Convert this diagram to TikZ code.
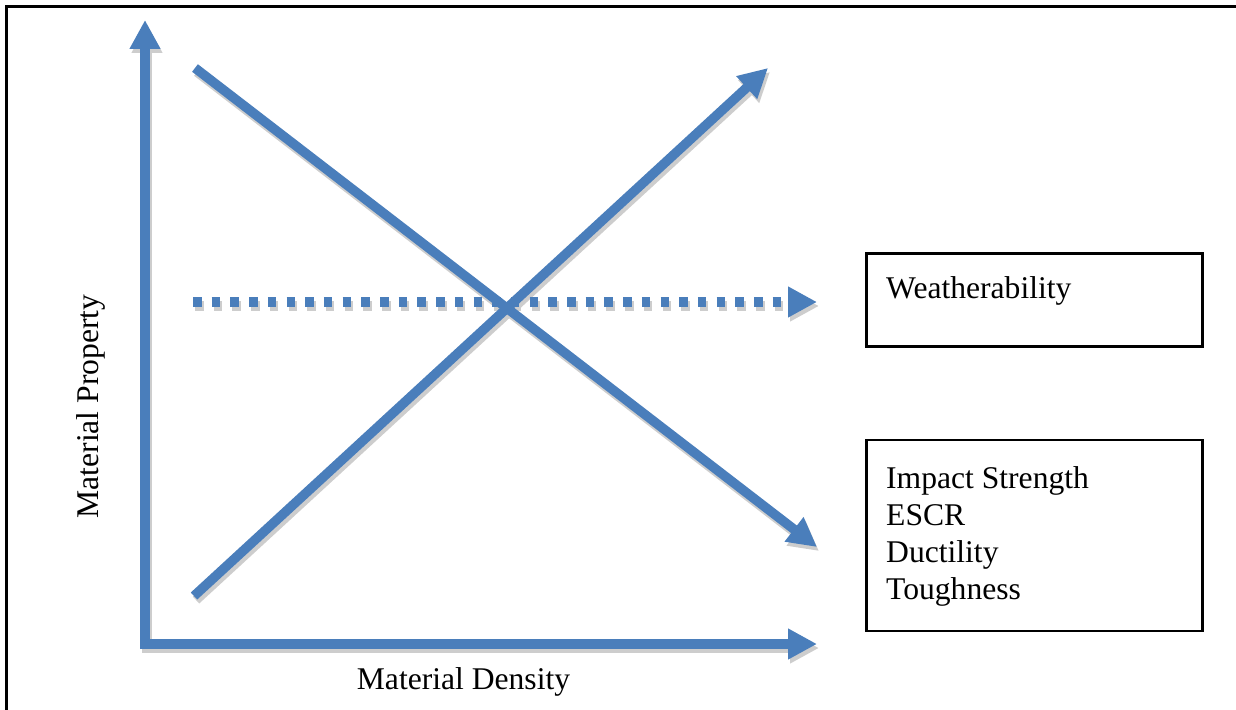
\documentclass[tikz,border=0pt]{standalone}
\usepackage{fontspec}
\setmainfont{Liberation Serif}
\usetikzlibrary{arrows.meta}
\definecolor{axisblue}{RGB}{74,126,187}
\definecolor{shadowgray}{RGB}{205,205,205}
\begin{document}
\begin{tikzpicture}[x=1pt,y=-1pt,
  tipstyle/.style={-{Triangle[length=29pt,width=29pt]}},
  thick arrow/.style={line width=9.5pt,tipstyle},
  axisline/.style={line width=9.5pt,{Triangle[length=29pt,width=29pt]}-{Triangle[length=29pt,width=29pt]},line join=miter},
  dotline/.style={line width=9.5pt,tipstyle,dash pattern=on 8.5pt off 10.2pt},
  lbl/.style={font=\fontsize{31.6}{38}\selectfont,inner sep=0pt,text=black},
  box/.style={draw=black,line width=2.6pt,inner sep=0pt,anchor=north west}]
\useasboundingbox (0,0) rectangle (1236,709);
% outer frame (right and bottom edges lie outside the picture)
\draw[line width=3pt,black] (6.5,720) -- (6.5,6.5) -- (1245,6.5);
% named points
\coordinate (O) at (145,644);
\coordinate (Ytip) at (145,20);
\coordinate (Xtip) at (817,644);
\coordinate (D1s) at (195,68);
\coordinate (D1e) at (817,547);
\coordinate (D2s) at (194,596);
\coordinate (D2e) at (768,68);
\coordinate (Hs) at (193,302);
\coordinate (He) at (817,302);
% shadows
\begin{scope}[transform canvas={shift={(2pt,-4pt)}},draw=shadowgray,color=shadowgray]
  \draw[axisline] (Ytip) -- (O) -- (Xtip);
  \draw[thick arrow] (D1s) -- (D1e);
  \draw[thick arrow] (D2s) -- (D2e);
  \draw[dotline] (Hs) -- (He);
\end{scope}
% blue arrows
\begin{scope}[draw=axisblue,color=axisblue]
  \draw[axisline] (Ytip) -- (O) -- (Xtip);
  \draw[dotline] (Hs) -- (He);
  \draw[thick arrow] (D1s) -- (D1e);
  \draw[thick arrow] (D2s) -- (D2e);
\end{scope}
% boxes
\node[box,minimum width=336pt,minimum height=93pt] (wbox) at (865,252) {};
\node[box,minimum width=336pt,minimum height=191pt] (ibox) at (865,438.5) {};
% texts
\node[lbl,anchor=base west] (weather) at (886,298) {Weatherability};
\node[lbl,anchor=base west] (impact) at (886,488) {Impact Strength};
\node[lbl,anchor=base west] (escr) at (886,525) {ESCR};
\node[lbl,anchor=base west] (duct) at (886,562) {Ductility};
\node[lbl,anchor=base west] (tough) at (886,599) {Toughness};
\node[lbl,anchor=base] (density) at (463.5,689) {Material Density};
\node[lbl,anchor=base,rotate=90] (property) at (98,406.5) {Material Property};
\end{tikzpicture}
\end{document}
